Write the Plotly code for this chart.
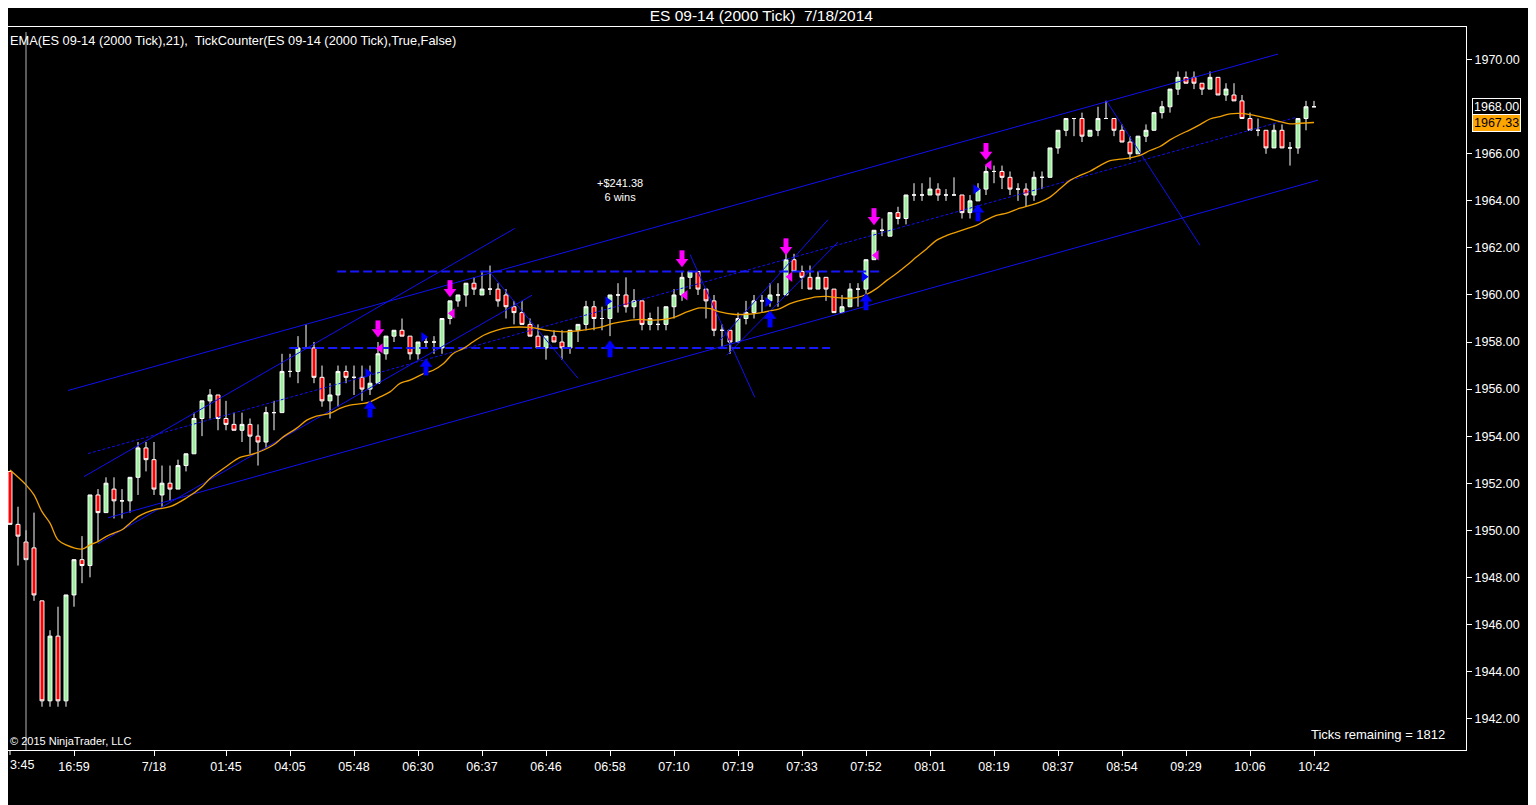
import plotly.graph_objects as go

# ES 09-14 2000-tick bars, 7/18/2014
opens = [1952.5, 1950.25, 1949.5, 1949.25, 1947, 1942.75, 1945.5, 1942.75, 1947.25, 1948.75,
         1948.5, 1951.5, 1950.75, 1951.75, 1951.25, 1951.25, 1952.25, 1953.5, 1953, 1951.5,
         1952, 1951.75, 1952.75, 1953.25, 1954.75, 1955.5, 1955.75, 1954.75, 1954.5, 1954.25,
         1954.5, 1954, 1953.75, 1955, 1955, 1956.75, 1956.75, 1957.75, 1957.75, 1956.5,
         1955.5, 1955.75, 1956.75, 1956.5, 1956.5, 1956, 1956.25, 1957.5, 1958.25, 1958.5,
         1958.25, 1957.5, 1958, 1958, 1957.75, 1959, 1959.75, 1960, 1960.5, 1960,
         1960.25, 1960.25, 1960, 1959.5, 1959.25, 1958.75, 1958.25, 1957.75, 1958.25, 1958,
         1957.75, 1958.5, 1958.75, 1959.5, 1959, 1959, 1960, 1960, 1959.5, 1959.75,
         1958.75, 1958.75, 1958.75, 1959.5, 1960, 1960.75, 1961, 1960.25, 1959.75, 1958.5,
         1958.5, 1958, 1959, 1959.25, 1959.75, 1959.75, 1960, 1960, 1961.5, 1961,
         1960.75, 1960.25, 1960.75, 1960.25, 1959.25, 1959.5, 1960.25, 1960.25, 1961.5, 1962.75,
         1962.5, 1963.5, 1963.25, 1964.25, 1964.25, 1964.25, 1964.5, 1964.25, 1964.25, 1964.25,
         1963.5, 1964, 1964.5, 1965.25, 1965.25, 1965, 1964.5, 1964.5, 1964.25, 1965,
         1965, 1966.25, 1967, 1967.5, 1967.5, 1966.75, 1967, 1967.5, 1967.5, 1967,
         1966.5, 1966, 1966.75, 1967, 1967.75, 1968, 1968.75, 1969.25, 1969.25, 1969,
         1968.75, 1969.25, 1968.5, 1968.5, 1968.25, 1967.5, 1967, 1967, 1966.25, 1967,
         1966.25, 1966.25, 1967.5, 1968]
highs = [1952.5, 1951, 1950, 1950.75, 1947, 1945.75, 1946.75, 1947.25, 1948.75, 1949.75,
         1951.5, 1951.75, 1952.25, 1952.25, 1951.75, 1952.25, 1953.75, 1953.75, 1953.75, 1952.75,
         1952.75, 1953, 1953.25, 1955, 1955.5, 1956, 1955.75, 1955.5, 1955, 1955,
         1954.75, 1954.5, 1955.25, 1955.5, 1957.5, 1957.5, 1958.25, 1958.75, 1958, 1957,
         1956.25, 1957, 1957, 1957, 1957, 1957, 1958, 1958.25, 1958.5, 1959,
         1958.25, 1958, 1958.25, 1958.25, 1959, 1959.75, 1960, 1960.5, 1960.75, 1961,
         1961.25, 1960.5, 1960.25, 1959.75, 1959.75, 1959, 1958.75, 1958.25, 1958.5, 1958.5,
         1958.5, 1958.75, 1959.75, 1959.75, 1959.5, 1960, 1960.5, 1960.75, 1960.25, 1959.75,
         1959.25, 1959.5, 1959.5, 1960.25, 1961, 1961, 1961, 1960.25, 1960, 1958.75,
         1958.5, 1959.25, 1959.75, 1960, 1960, 1960.5, 1960.5, 1961.75, 1961.75, 1961.25,
         1961.25, 1961, 1960.75, 1960.25, 1960, 1960.5, 1960.5, 1961.5, 1962.75, 1963.25,
         1963.5, 1963.75, 1964.25, 1964.75, 1964.75, 1965, 1964.75, 1964.5, 1965, 1964.25,
         1964.25, 1964.75, 1965.5, 1965.5, 1965.5, 1965.25, 1964.75, 1964.75, 1965.25, 1965.25,
         1966.25, 1967, 1967.5, 1967.5, 1967.75, 1967, 1968, 1968.25, 1967.5, 1967.25,
         1966.75, 1966.75, 1967.25, 1967.75, 1968.25, 1968.75, 1969.5, 1969.5, 1969.5, 1969,
         1969.5, 1969.25, 1969, 1969, 1968.5, 1967.75, 1967.5, 1967, 1967.25, 1967.25,
         1966.5, 1967.5, 1968.25, 1968.25]
lows = [1950.25, 1948.5, 1948.75, 1947, 1942.5, 1942.5, 1942.5, 1942.5, 1946.75, 1947.75,
        1948, 1949.5, 1950.75, 1950.5, 1950.5, 1950.75, 1951.5, 1952.5, 1951.5, 1951,
        1951.25, 1951.75, 1952.5, 1953.25, 1954, 1954.75, 1954.25, 1954.25, 1954.25, 1953.75,
        1953.25, 1952.75, 1953.5, 1954.25, 1955, 1956.5, 1956.25, 1957.75, 1956.25, 1955.25,
        1954.75, 1955.25, 1956.25, 1955.75, 1955.5, 1955.75, 1956.25, 1957.25, 1958, 1958.25,
        1957.25, 1957.25, 1957.75, 1957.5, 1957.5, 1958.75, 1959.5, 1959.5, 1960, 1960,
        1960, 1959.5, 1959, 1958.75, 1958.75, 1958.25, 1957.75, 1957.25, 1958, 1957.25,
        1957.5, 1958, 1958.5, 1958.5, 1958.5, 1958.25, 1959.25, 1959.25, 1959, 1958.5,
        1958.5, 1958.5, 1958.5, 1959, 1959.75, 1960.25, 1960, 1959, 1958.25, 1957.75,
        1957.5, 1958, 1958.75, 1959, 1959.25, 1959.5, 1959.5, 1960, 1961, 1960.25,
        1960.25, 1960.25, 1959.75, 1959.25, 1959.25, 1959.5, 1959.5, 1960, 1961.5, 1962.5,
        1962.5, 1963, 1963, 1964, 1964, 1964.25, 1964, 1964, 1964.25, 1963.25,
        1963.25, 1964, 1964.25, 1964.75, 1964.5, 1964.25, 1964, 1963.75, 1964, 1964.5,
        1965, 1966, 1966.75, 1966.75, 1966.5, 1966.75, 1966.75, 1967.5, 1966.75, 1966.5,
        1965.75, 1966, 1966.5, 1967, 1967.5, 1967.75, 1968.5, 1969, 1968.75, 1968.5,
        1968.75, 1968.5, 1968.25, 1968.25, 1967.5, 1967, 1966.75, 1966, 1966.25, 1966.25,
        1965.5, 1966, 1967, 1968]
closes = [1950.25, 1949.75, 1948.75, 1947.25, 1942.75, 1945.5, 1942.75, 1947.25, 1948.75, 1948.5,
          1951.5, 1950.75, 1952, 1951.25, 1951.25, 1952.25, 1953.5, 1953, 1951.75, 1952,
          1951.75, 1952.75, 1953.25, 1954.75, 1955.5, 1955.75, 1954.75, 1954.5, 1954.25, 1954.5,
          1954, 1953.75, 1955, 1955, 1956.75, 1956.75, 1957.75, 1957.75, 1956.5, 1955.5,
          1955.75, 1956.75, 1956.5, 1956.5, 1956, 1956.25, 1957.5, 1958.25, 1958.5, 1958.25,
          1957.5, 1958, 1958, 1958, 1959, 1959.75, 1960, 1960.5, 1960.25, 1960.25,
          1960.25, 1959.75, 1959.5, 1959.25, 1958.75, 1958.25, 1957.75, 1958.25, 1958, 1957.75,
          1958.5, 1958.75, 1959.5, 1959, 1959, 1960, 1960, 1959.5, 1959.75, 1958.75,
          1959, 1958.75, 1959.5, 1960, 1960.75, 1961, 1960.25, 1959.75, 1958.5, 1958.5,
          1958, 1959, 1959.25, 1959.75, 1959.75, 1960, 1960, 1961.5, 1961, 1960.75,
          1960.25, 1960.75, 1960.25, 1959.25, 1959.5, 1960.25, 1960.25, 1961.5, 1962.75, 1962.75,
          1963.5, 1963.25, 1964.25, 1964.25, 1964.25, 1964.5, 1964.25, 1964.25, 1964.25, 1963.5,
          1964, 1964.5, 1965.25, 1965.25, 1965, 1964.5, 1964.5, 1964.25, 1965, 1965,
          1966.25, 1967, 1967.5, 1967.5, 1966.75, 1967, 1967.5, 1967.5, 1967, 1966.5,
          1966, 1966.75, 1967, 1967.75, 1968, 1968.75, 1969.25, 1969, 1969, 1968.75,
          1969.25, 1968.5, 1968.75, 1968.25, 1967.5, 1967, 1967, 1966.25, 1967, 1966.25,
          1966.25, 1967.5, 1968, 1968]
bars = list(range(len(closes)))

# EMA(21)
ema_bar = [0, 2, 3, 4, 5, 6, 7, 9, 10, 11, 12, 13, 14, 15, 16, 17, 18, 20, 22, 24, 25, 27, 28.75, 30,
           31.7, 32.9, 34.2, 35.8, 37.1, 38.3, 40, 41.25, 42.5, 44.2, 45, 46.25, 47.5, 48.75, 50,
           51.7, 52.9, 54.2, 55.4, 56.7, 57.9, 59.2, 60.8, 62.5, 65, 67.1, 69.2, 70.8, 72.1, 73.75,
           75.4, 77.1, 78.75, 80.4, 82.9, 84.6, 86.25, 87.5, 88.75, 90.4, 92.1, 93.75, 95, 96.25,
           97.5, 99.2, 100.8, 102.1, 103.3, 104.6, 105.8, 107.1, 108.3, 109.6, 110.8, 112.1, 113.3,
           114.6, 115.8, 117.1, 118.3, 119.6, 120.8, 122.1, 123.3, 124.6, 126.25, 127.5, 128.75,
           130, 131.25, 132.5, 133.75, 135, 136.25, 137.5, 138.75, 140, 141.25, 142.5, 143.75, 145,
           146.25, 147.5, 148.75, 150, 151.25, 152.5, 153.75, 155, 156.25, 157.5, 158.75, 160,
           161.25, 163]
ema_val = [1952.56, 1951.93, 1951.5, 1950.79, 1950.3, 1949.59, 1949.38, 1949.2, 1949.38, 1949.52,
           1949.73, 1949.88, 1950.02, 1950.3, 1950.58, 1950.75, 1950.87, 1951.0, 1951.36, 1951.85,
           1952.2, 1952.7, 1953.1, 1953.2, 1953.41, 1953.62, 1953.98, 1954.33, 1954.68, 1954.85,
           1954.97, 1955.18, 1955.32, 1955.39, 1955.46, 1955.67, 1955.88, 1956.24, 1956.38, 1956.66,
           1956.8, 1957.09, 1957.51, 1957.73, 1958.01, 1958.29, 1958.5, 1958.62, 1958.62, 1958.5,
           1958.43, 1958.47, 1958.53, 1958.62, 1958.79, 1958.9, 1958.96, 1958.93, 1959.04, 1959.28,
           1959.45, 1959.42, 1959.28, 1959.18, 1959.18, 1959.24, 1959.32, 1959.42, 1959.63, 1959.8,
           1959.92, 1959.94, 1959.89, 1959.86, 1959.89, 1960.03, 1960.27, 1960.62, 1960.91, 1961.26,
           1961.61, 1961.97, 1962.32, 1962.53, 1962.67, 1962.82, 1962.96, 1963.2, 1963.38, 1963.48,
           1963.69, 1963.81, 1963.95, 1964.16, 1964.51, 1964.87, 1965.08, 1965.26, 1965.5, 1965.71,
           1965.77, 1965.83, 1965.93, 1966.14, 1966.31, 1966.59, 1966.82, 1967.02, 1967.24, 1967.48,
           1967.58, 1967.7, 1967.72, 1967.67, 1967.58, 1967.48, 1967.37, 1967.27, 1967.3, 1967.33]

# hand drawn trend lines (bar, price) -> (bar, price)
trend_x0 = [7.25, 12.25, 9.25, 11, 60, 85, 88.75, 89.6, 137]
trend_y0 = [1955.94, 1950.53, 1952.28, 1949.43, 1960.96, 1961.72, 1958.08, 1957.44, 1968.28]
trend_x1 = [158.5, 163.5, 63.1, 65.25, 71, 93.1, 102.25, 103.5, 148.75]
trend_y1 = [1970.24, 1964.88, 1962.83, 1959.99, 1956.46, 1955.65, 1963.2, 1962.25, 1962.11]
mid_x = [9.75, 160.9]
mid_y = [1953.26, 1967.56]
hline_x0 = [40.9, 34.9]
hline_x1 = [108.75, 102.5]
hline_y = [1961.0, 1957.75]

# trade markers
sell_bar = [46, 55, 84, 97, 108, 122]
sell_tip = [1958.28, 1959.99, 1961.26, 1961.77, 1963.05, 1965.82]
buy_bar = [45, 52, 75, 95, 107, 121]
buy_tip = [1955.43, 1957.22, 1957.99, 1959.26, 1959.99, 1963.77]
entry_bar = [44.7, 51.7, 74.7, 94.7, 106.75, 120.7]
entry_px = [1956.68, 1958.21, 1959.73, 1959.70, 1960.77, 1964.49]
exit_bar = [46.3, 55.3, 84.4, 97.5, 108.3, 122.4]
exit_px = [1957.73, 1959.22, 1959.99, 1960.77, 1961.69, 1965.52]

# first label sits on the left edge, it gets its own annotation
first_tick = "3:45"
tick_bars = [8, 18, 27, 35, 43, 51, 59, 67, 75, 83, 91, 99, 107, 115, 123, 131, 139, 147, 155, 163]
tick_text = ["16:59", "7/18", "01:45", "04:05", "05:48", "06:30", "06:37", "06:46", "06:58",
             "07:10", "07:19", "07:33", "07:52", "08:01", "08:19", "08:37", "08:54", "09:29", "10:06",
             "10:42"]
price_ticks = [1942, 1944, 1946, 1948, 1950, 1952, 1954, 1956, 1958, 1960, 1962, 1964, 1966, 1970]

last_price = 1968.00
ema_last = 1967.33

FONT = "Arial, Liberation Sans, sans-serif"
PX = 1 / 23.5  # price per screen pixel
BLUE = "#1010f0"

fig = go.Figure()

# session break line
fig.add_shape(type="line", x0=2, x1=2, y0=0, y1=0.993, xref="x", yref="paper",
              line=dict(color="#b4b4b4", width=1))

# trend lines
tx, ty = [], []
for a, b, c, d in zip(trend_x0, trend_y0, trend_x1, trend_y1):
    tx += [a, c, None]
    ty += [b, d, None]
fig.add_trace(go.Scatter(x=tx, y=ty, mode="lines", line=dict(color=BLUE, width=1), hoverinfo="skip"))
fig.add_trace(go.Scatter(x=mid_x, y=mid_y, mode="lines", line=dict(color=BLUE, width=1, dash="3px,2px"),
                         hoverinfo="skip"))
hx, hy = [], []
for a, c, p in zip(hline_x0, hline_x1, hline_y):
    hx += [a, c, None]
    hy += [p, p, None]
fig.add_trace(go.Scatter(x=hx, y=hy, mode="lines", line=dict(color="#1818ff", width=2, dash="9px,4px"),
                         hoverinfo="skip"))

# EMA
fig.add_trace(go.Scatter(x=ema_bar, y=ema_val, mode="lines", line=dict(color="#f0a000", width=1.3, shape="spline"),
                         name="EMA"))

# candles
fig.add_trace(go.Candlestick(
    x=bars, open=opens, high=highs, low=lows, close=closes,
    increasing=dict(line=dict(color="white", width=1), fillcolor="#98f098"),
    decreasing=dict(line=dict(color="white", width=1), fillcolor="#ff0000"),
    whiskerwidth=0, name="ES 09-14"))

# sell arrows (magenta, pointing down)
sx, sy = [], []
for b, p in zip(sell_bar, sell_tip):
    sx += [b, b, None]
    sy += [p + 15 * PX, p + 6 * PX, None]
fig.add_trace(go.Scatter(x=sx, y=sy, mode="lines", line=dict(color="#ff00ff", width=5), hoverinfo="skip"))
fig.add_trace(go.Scatter(x=sell_bar, y=[p + 3.5 * PX for p in sell_tip], mode="markers",
                         marker=dict(symbol="triangle-down", size=11, color="#ff00ff"), hoverinfo="skip"))

# buy arrows (blue, pointing up)
bx, by = [], []
for b, p in zip(buy_bar, buy_tip):
    bx += [b, b, None]
    by += [p - 15 * PX, p - 6 * PX, None]
fig.add_trace(go.Scatter(x=bx, y=by, mode="lines", line=dict(color="#0000ff", width=5), hoverinfo="skip"))
fig.add_trace(go.Scatter(x=buy_bar, y=[p - 3.5 * PX for p in buy_tip], mode="markers",
                         marker=dict(symbol="triangle-up", size=11, color="#0000ff"), hoverinfo="skip"))

fig.add_trace(go.Scatter(x=entry_bar, y=entry_px, mode="markers",
                         marker=dict(symbol="triangle-right", size=9, color="#0000ff"), hoverinfo="skip"))
fig.add_trace(go.Scatter(x=exit_bar, y=exit_px, mode="markers",
                         marker=dict(symbol="triangle-left", size=9, color="#ff00ff"), hoverinfo="skip"))

# texts
fig.add_annotation(x=76.25, y=1964.45, xref="x", yref="y", text="+$241.38<br>6 wins", showarrow=False,
                   font=dict(family=FONT, size=11, color="white"), align="center")
fig.add_annotation(x=0, y=0.995, xref="paper", yref="paper", xanchor="left", yanchor="top",
                   text="EMA(ES 09-14 (2000 Tick),21),  TickCounter(ES 09-14 (2000 Tick),True,False)",
                   showarrow=False, font=dict(family=FONT, size=12.8, color="white"))
fig.add_annotation(x=0, y=0.002, xref="paper", yref="paper", xanchor="left", yanchor="bottom",
                   text="© 2015 NinjaTrader, LLC", showarrow=False,
                   font=dict(family=FONT, size=11, color="white"))
fig.add_annotation(x=0.987, y=0.008, xref="paper", yref="paper", xanchor="right", yanchor="bottom",
                   text="Ticks remaining = 1812", showarrow=False,
                   font=dict(family=FONT, size=13, color="white"))
fig.add_annotation(x=0, y=0, xref="paper", yref="paper", xanchor="left", yanchor="top", yshift=-6,
                   text=first_tick, showarrow=False, font=dict(family=FONT, size=12.5, color="white"))
fig.add_shape(type="line", x0=0, x1=0, y0=0, y1=-5, xref="x", yref="y domain", ysizemode="pixel", yanchor=0,
              line=dict(color="white", width=1))

# price tags on the axis
fig.add_annotation(x=1, y=last_price, xref="paper", yref="y", xanchor="left", xshift=6,
                   text=f"{last_price:.2f}", showarrow=False, bgcolor="black", bordercolor="white",
                   borderwidth=1, borderpad=1, font=dict(family=FONT, size=12.5, color="white"))
fig.add_annotation(x=1, y=ema_last, xref="paper", yref="y", xanchor="left", xshift=6,
                   text=f"{ema_last:.2f}", showarrow=False, bgcolor="#ffa500", bordercolor="white",
                   borderwidth=1, borderpad=1, font=dict(family=FONT, size=12.5, color="black"))

# the page body adds an 8px offset, so the figure is 8px smaller and the margins are trimmed
fig.update_layout(
    width=1528, height=797,
    paper_bgcolor="black", plot_bgcolor="black",
    margin=dict(l=0, r=70, t=19, b=55, autoexpand=False),
    showlegend=False,
    title=dict(text="ES 09-14 (2000 Tick)  7/18/2014", x=0.493, xanchor="center", y=0.99, yanchor="middle",
               font=dict(family=FONT, size=15.5, color="white")),
    xaxis=dict(range=[-0.25, 182], tickvals=tick_bars, ticktext=tick_text, showgrid=False, zeroline=False,
               showline=True, linecolor="white", linewidth=1, mirror=True, ticks="outside", ticklen=5,
               tickcolor="white", tickfont=dict(family=FONT, size=12.5, color="white"),
               rangeslider=dict(visible=False)),
    yaxis=dict(range=[1940.66, 1971.39], side="right", tickvals=price_ticks,
               ticktext=[f"{v:.2f}" for v in price_ticks], showgrid=False, zeroline=False,
               showline=True, linecolor="white", linewidth=1, mirror=True, ticks="outside", ticklen=5,
               tickcolor="white", tickfont=dict(family=FONT, size=12.5, color="white")),
)

fig.write_html("out.html")
